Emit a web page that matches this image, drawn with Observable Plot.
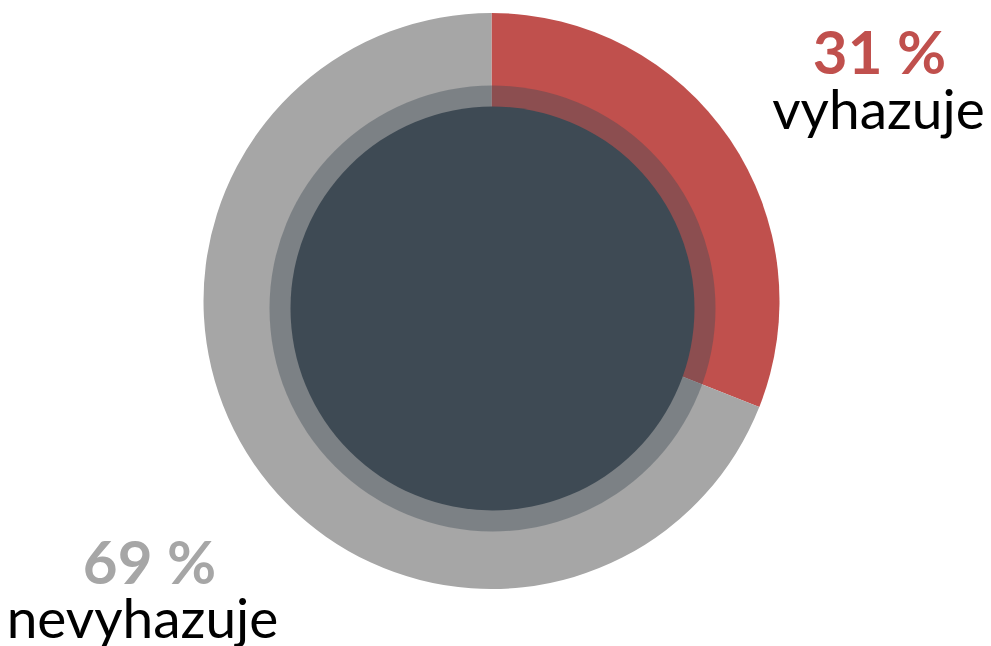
<!DOCTYPE html>
<html>
<head>
<meta charset="utf-8">
<script src="https://cdn.jsdelivr.net/npm/d3@7"></script>
<script src="https://cdn.jsdelivr.net/npm/@observablehq/plot@0.6"></script>
<style>
  html, body { margin: 0; padding: 0; background: #fff; }
  #chart svg { display: block; }
</style>
</head>
<body>
<div id="chart"></div>
<script>
// ---- data ----
const categories = ["vyhazuje", "nevyhazuje"];
const shares = [31, 69];
const pctLabels = ["31 %", "69 %"];
const colors = ["#C0504D", "#A6A6A6"];

// ---- layout (pixels) ----
const W = 991, H = 646;
const center = {x: 491.5, y: 301};
const innerCenter = {x: 492.5, y: 308.5};
const rOuter = 288, rRing = 223, rInner = 202;
const innerColor = "#3E4A54";
const labelLayout = [
  {px: 879, py: 73, cx: 878, cy: 128},
  {px: 149, py: 583, cx: 142, cy: 637}
];

const rows = categories.map((c, i) => ({
  category: c, share: shares[i], pct: pctLabels[i], color: colors[i], ...labelLayout[i]
}));

function donut(...args) {
  const scales = args.find(a => a && typeof a.x === "function" && typeof a.y === "function");
  const cx = scales.x(center.x), cy = scales.y(center.y);
  const ix = scales.x(innerCenter.x), iy = scales.y(innerCenter.y);
  const pie = d3.pie().sort(null).value(d => d.share)(rows);
  const g = d3.create("svg:g");
  const outer = d3.arc().innerRadius(0).outerRadius(rOuter);
  g.append("g").attr("transform", `translate(${cx},${cy})`)
    .selectAll("path").data(pie).join("path")
    .attr("d", outer)
    .attr("fill", d => d.data.color);
  const inner = g.append("g").attr("transform", `translate(${ix},${iy})`);
  inner.append("circle").attr("r", rRing).attr("fill", innerColor).attr("fill-opacity", 0.4);
  inner.append("circle").attr("r", rInner).attr("fill", innerColor);
  return g.node();
}

const chart = Plot.plot({
  width: W,
  height: H,
  margin: 0,
  x: {domain: [0, W], range: [0, W], axis: null},
  y: {domain: [0, H], range: [0, H], axis: null},
  marks: [
    donut,
    Plot.text(rows, {
      x: "px", y: "py", text: "pct", fill: "color",
      fontSize: 60, fontWeight: "bold", fontFamily: "Lato",
      textAnchor: "middle", lineAnchor: "bottom"
    }),
    Plot.text(rows, {
      x: "cx", y: "cy", text: "category", fill: "#000",
      fontSize: 55, fontFamily: "Lato",
      textAnchor: "middle", lineAnchor: "bottom"
    })
  ]
});
document.getElementById("chart").appendChild(chart);
</script>
</body>
</html>
